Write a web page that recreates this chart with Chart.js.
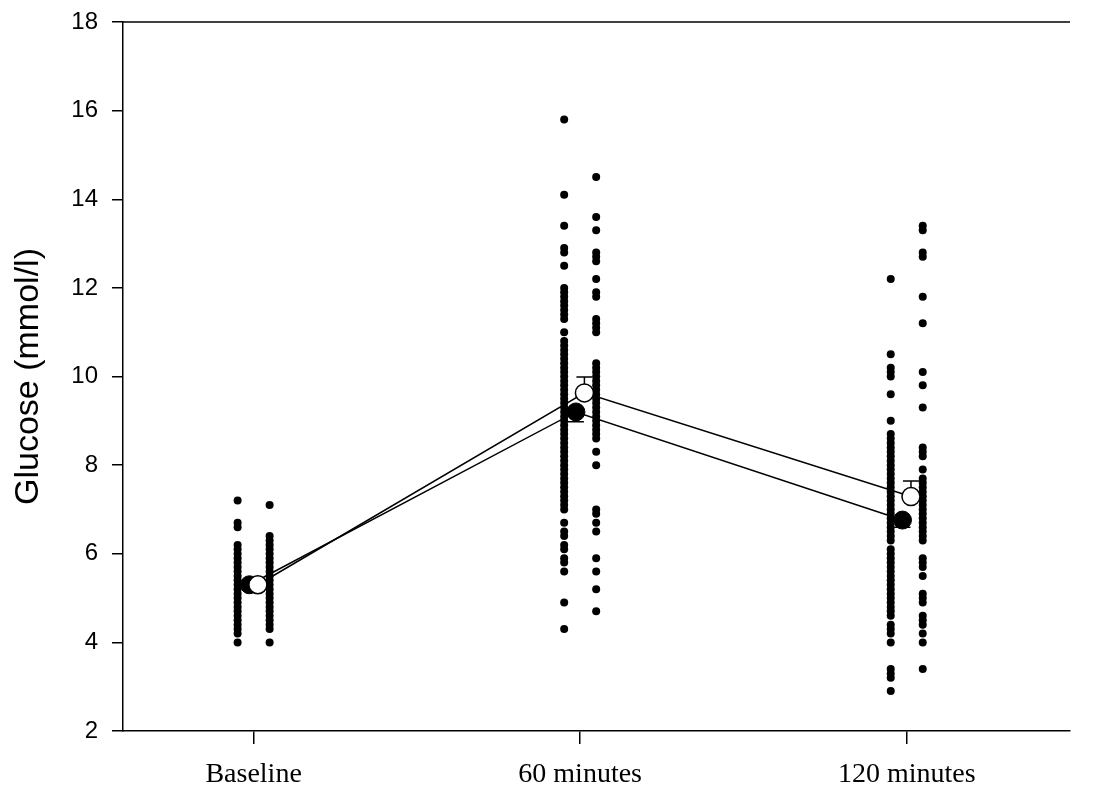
<!DOCTYPE html>
<html>
<head>
<meta charset="utf-8">
<script src="https://cdn.jsdelivr.net/npm/chart.js@4/dist/chart.umd.min.js"></script>
<style>
  html, body { margin: 0; padding: 0; background: #fff; }
  #wrap { width: 1095px; height: 786px; }
</style>
</head>
<body>
<div id="wrap"><canvas id="chart"></canvas></div>
<script>
const timepoints = ['Baseline', '60 minutes', '120 minutes'];

// individual glucose values, left column (group A, filled mean) and right column (group B, open mean)
const baselineA = [7.2, 6.7, 6.6, 6.2, 6.1, 6.0, 5.9, 5.8, 5.7, 5.6, 5.5, 5.4, 5.3, 5.2, 5.1, 5.0, 4.9, 4.8, 4.7, 4.6, 4.5, 4.4, 4.3, 4.2, 4.0];
const baselineB = [7.1, 6.4, 6.3, 6.2, 6.1, 6.0, 5.9, 5.8, 5.7, 5.6, 5.5, 5.4, 5.3, 5.2, 5.1, 5.0, 4.9, 4.8, 4.7, 4.6, 4.5, 4.4, 4.3, 4.0];
const min60A = [15.8, 14.1, 13.4, 12.9, 12.8, 12.5, 12.0, 11.9, 11.8, 11.7, 11.6, 11.5, 11.4, 11.3, 11.0,
  10.8, 10.7, 10.6, 10.5, 10.4, 10.3, 10.2, 10.1, 10.0, 9.9, 9.8, 9.7, 9.6, 9.5, 9.4, 9.3, 9.2, 9.1, 9.0,
  8.9, 8.8, 8.7, 8.6, 8.5, 8.4, 8.3, 8.2, 8.1, 8.0, 7.9, 7.8, 7.7, 7.6, 7.5, 7.4, 7.3, 7.2, 7.1,
  7.0, 6.7, 6.5, 6.4, 6.2, 6.1, 5.9, 5.8, 5.6, 4.9, 4.3];
const min60B = [14.5, 13.6, 13.3, 12.8, 12.7, 12.6, 12.2, 11.9, 11.8, 11.3, 11.2, 11.1, 11.0,
  10.3, 10.2, 10.1, 10.0, 9.9, 9.8, 9.7, 9.6, 9.5, 9.4, 9.3, 9.2, 9.1, 9.0, 8.9, 8.8, 8.7, 8.6,
  8.3, 8.0, 7.0, 6.9, 6.7, 6.5, 5.9, 5.6, 5.2, 4.7];
const min120A = [12.2, 10.5, 10.2, 10.1, 10.0, 9.6, 9.0,
  8.7, 8.6, 8.5, 8.4, 8.3, 8.2, 8.1, 8.0, 7.9, 7.8, 7.7, 7.6, 7.5, 7.4, 7.3, 7.2, 7.1, 7.0, 6.9, 6.8,
  6.7, 6.6, 6.5, 6.4, 6.3, 6.1, 6.0, 5.9, 5.8, 5.7, 5.6, 5.5, 5.4, 5.3, 5.2, 5.1, 5.0, 4.9, 4.8,
  4.7, 4.6, 4.4, 4.3, 4.2, 4.0, 3.4, 3.3, 3.2, 2.9];
const min120B = [13.4, 13.3, 12.8, 12.7, 11.8, 11.2, 10.1, 9.8, 9.3, 8.4, 8.3, 8.2, 7.9,
  7.7, 7.6, 7.5, 7.4, 7.3, 7.2, 7.1, 7.0, 6.9, 6.8, 6.7, 6.6, 6.5, 6.4, 6.3,
  5.9, 5.8, 5.7, 5.5, 5.1, 5.0, 4.9, 4.6, 4.5, 4.4, 4.2, 4.0, 3.4];

// group means and SEM
const meanA = [5.3, 9.2, 6.76];
const semA = [0.05, 0.22, 0.16];
const meanB = [5.3, 9.63, 7.29];
const semB = [0.05, 0.36, 0.35];

const COL_OFFSET = 0.049;
const MEAN_A_OFFSET = -0.013;
const MEAN_B_OFFSET = 0.013;

function column(values, x) {
  return values.map(v => ({ x: x, y: v }));
}

const dotsA = [].concat(column(baselineA, 0 - COL_OFFSET), column(min60A, 1 - COL_OFFSET), column(min120A, 2 - COL_OFFSET));
const dotsB = [].concat(column(baselineB, 0 + COL_OFFSET), column(min60B, 1 + COL_OFFSET), column(min120B, 2 + COL_OFFSET));

const errorBars = {
  id: 'errorBars',
  beforeDatasetDraw(chart, args) {
    const ds = chart.data.datasets[args.index];
    if (!ds.sem) return;
    const xs = chart.scales.x, ys = chart.scales.y, ctx = chart.ctx;
    ctx.save();
    ctx.strokeStyle = '#000';
    ctx.lineWidth = 1.5;
    ds.data.forEach((p, i) => {
      const px = xs.getPixelForValue(p.x);
      const py = ys.getPixelForValue(p.y);
      const pe = ys.getPixelForValue(p.y + ds.errDir * ds.sem[i]);
      ctx.beginPath();
      ctx.moveTo(px, py);
      ctx.lineTo(px, pe);
      ctx.moveTo(px - 8, pe);
      ctx.lineTo(px + 8, pe);
      ctx.stroke();
    });
    ctx.restore();
  }
};

const topLine = {
  id: 'topLine',
  afterDraw(chart) {
    const a = chart.chartArea, ctx = chart.ctx;
    ctx.save();
    ctx.strokeStyle = '#000';
    ctx.lineWidth = 1.5;
    ctx.beginPath();
    ctx.moveTo(a.left, a.top);
    ctx.lineTo(a.right, a.top);
    ctx.stroke();
    ctx.restore();
  }
};

new Chart(document.getElementById('chart'), {
  type: 'scatter',
  data: {
    datasets: [
      {
        label: 'Group B mean',
        data: meanB.map((v, i) => ({ x: i + MEAN_B_OFFSET, y: v })),
        sem: semB, errDir: 1,
        showLine: true,
        borderColor: '#000', borderWidth: 1.5,
        pointRadius: 9, pointBackgroundColor: '#fff', pointBorderColor: '#000', pointBorderWidth: 1.5
      },
      {
        label: 'Group A mean',
        data: meanA.map((v, i) => ({ x: i + MEAN_A_OFFSET, y: v })),
        sem: semA, errDir: -1,
        showLine: true,
        borderColor: '#000', borderWidth: 1.5,
        pointRadius: 9, pointBackgroundColor: '#000', pointBorderColor: '#000', pointBorderWidth: 1
      },
      {
        label: 'Group A',
        data: dotsA,
        pointRadius: 4, pointBackgroundColor: '#000', pointBorderColor: '#000', pointBorderWidth: 0
      },
      {
        label: 'Group B',
        data: dotsB,
        pointRadius: 4, pointBackgroundColor: '#000', pointBorderColor: '#000', pointBorderWidth: 0
      }
    ]
  },
  options: {
    responsive: true,
    maintainAspectRatio: false,
    animation: false,
    layout: { padding: { top: 22, right: 25, left: 0, bottom: 0 } },
    plugins: { legend: { display: false }, tooltip: { enabled: false } },
    scales: {
      x: {
        type: 'linear',
        min: -0.4,
        max: 2.5,
        afterBuildTicks: s => { s.ticks = [0, 1, 2].map(v => ({ value: v })); },
        afterFit: s => { s.height = 55; s.paddingLeft = 0; s.paddingRight = 0; },
        ticks: {
          autoSkip: false, maxRotation: 0,
          callback: v => timepoints[Math.round(v)],
          color: '#000',
          font: { family: 'Liberation Serif', size: 28 },
          padding: 14
        },
        grid: { drawOnChartArea: false, color: '#000', lineWidth: 1.5, tickLength: 13 },
        border: { color: '#000', width: 1.5 }
      },
      y: {
        min: 2,
        max: 18,
        afterFit: s => { s.width = 123; s.paddingTop = 0; s.paddingBottom = 0; },
        ticks: {
          stepSize: 2,
          color: '#000',
          font: { family: 'Liberation Sans', size: 24 },
          padding: 14
        },
        grid: { drawOnChartArea: false, color: '#000', lineWidth: 1.5, tickLength: 11 },
        border: { color: '#000', width: 1.5 },
        title: {
          display: true,
          text: 'Glucose (mmol/l)',
          color: '#000',
          font: { family: 'Liberation Sans', size: 34 },
          padding: { top: 8, bottom: 0 }
        }
      }
    }
  },
  plugins: [errorBars, topLine]
});
</script>
</body>
</html>
